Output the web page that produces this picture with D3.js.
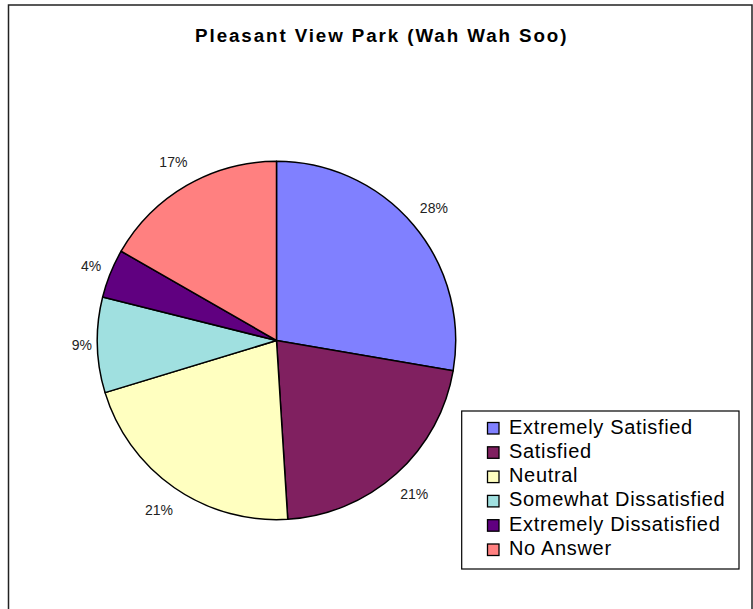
<!DOCTYPE html>
<html>
<head>
<meta charset="utf-8">
<script src="https://cdn.jsdelivr.net/npm/d3@7"></script>
<style>
  html, body { margin: 0; padding: 0; background: #fff; }
  svg { display: block; }
</style>
</head>
<body>
<svg id="chart" width="753" height="609"></svg>
<script>
const title = "Pleasant View Park (Wah Wah Soo)";
const categories = ["Extremely Satisfied", "Satisfied", "Neutral", "Somewhat Dissatisfied", "Extremely Dissatisfied", "No Answer"];
const values = [27.7, 21.3, 21.3, 8.6, 4.4, 16.7];
const colors = ["#8080FF", "#802060", "#FFFFC0", "#A0E0E0", "#600080", "#FF8080"];

const svg = d3.select("#chart");
const W = 753, H = 609;

// outer chart border
svg.append("rect")
  .attr("x", 8.5).attr("y", 5)
  .attr("width", 743.5).attr("height", H + 20)
  .attr("fill", "#fff").attr("stroke", "#222").attr("stroke-width", 1.5);

// title
svg.append("text")
  .attr("x", 381.7).attr("y", 42)
  .attr("text-anchor", "middle")
  .attr("font-family", "Liberation Sans, Arial, sans-serif")
  .attr("font-weight", "bold")
  .attr("font-size", 18.8)
  .attr("letter-spacing", 1.9)
  .attr("fill", "#000")
  .text(title);

// pie
const cx = 276.5, cy = 340.5, R = 179.2;
const total = d3.sum(values);
const pie = d3.pie().sort(null).value(d => d)(values);
const arc = d3.arc().innerRadius(0).outerRadius(R);

const g = svg.append("g").attr("transform", `translate(${cx},${cy})`);
g.selectAll("path.slice")
  .data(pie)
  .join("path")
  .attr("class", "slice")
  .attr("d", arc)
  .attr("fill", (d, i) => colors[i])
  .attr("stroke", "#000")
  .attr("stroke-width", 1.5)
  .attr("stroke-linejoin", "round");

// percentage labels
const fmt = d3.format(".0%");
g.selectAll("text.pct")
  .data(pie)
  .join("text")
  .attr("class", "pct")
  .attr("font-family", "Liberation Sans, Arial, sans-serif")
  .attr("font-size", 14)
  .attr("fill", "#222")
  .attr("text-anchor", "middle")
  .text(d => fmt(d.value / total))
  .each(function(d) {
    const a = (d.startAngle + d.endAngle) / 2;
    const s = Math.sin(a), c = -Math.cos(a);
    const w = this.getComputedTextLength();
    const h = 10;
    const pad = 5 + 12 * Math.abs(c);
    const r = R + pad + Math.abs(s) * w / 2 + Math.abs(c) * h / 2;
    d3.select(this)
      .attr("x", r * s)
      .attr("y", r * c + h / 2);
  });

// legend
const lg = svg.append("g");
lg.append("rect")
  .attr("x", 461.7).attr("y", 411)
  .attr("width", 277.3).attr("height", 158)
  .attr("fill", "#fff").attr("stroke", "#000").attr("stroke-width", 1.2);

const rowH = 24.3;
const items = lg.selectAll("g.item")
  .data(categories)
  .join("g")
  .attr("class", "item")
  .attr("transform", (d, i) => `translate(0,${i * rowH})`);

items.append("rect")
  .attr("x", 487.5).attr("y", 422.5)
  .attr("width", 11.5).attr("height", 11.5)
  .attr("fill", (d, i) => colors[i])
  .attr("stroke", "#000").attr("stroke-width", 1.3);

items.append("text")
  .attr("x", 509).attr("y", 433.5)
  .attr("font-family", "Liberation Sans, Arial, sans-serif")
  .attr("font-size", 20)
  .attr("letter-spacing", 0.67)
  .attr("fill", "#000")
  .text(d => d);
</script>
</body>
</html>
